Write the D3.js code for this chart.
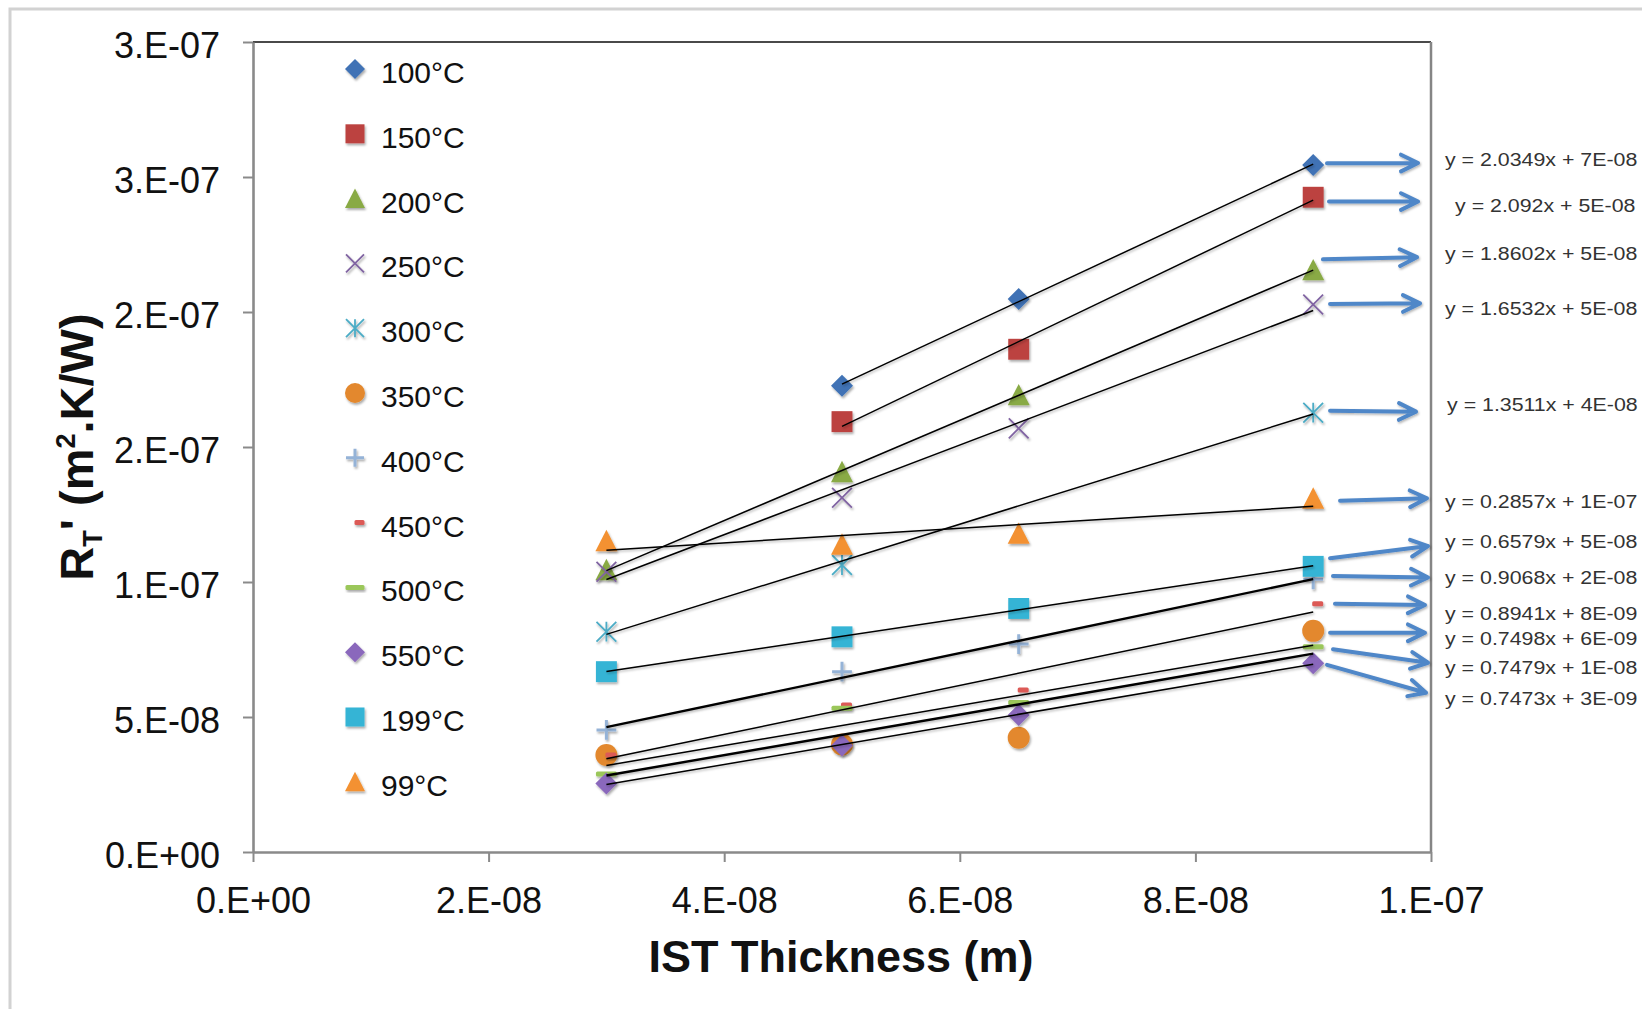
<!DOCTYPE html>
<html><head><meta charset="utf-8">
<script src="https://cdn.jsdelivr.net/npm/d3@7"></script>
<style>
html,body{margin:0;padding:0;background:#fff;overflow:hidden}
svg{display:block}
text{font-family:"Liberation Sans",Arial,Helvetica,sans-serif}
</style></head><body>
<svg id="chart" width="1642" height="1009"></svg>
<script>
// ---------------- DATA ----------------
const xValues = [3e-8, 5e-8, 6.5e-8, 9e-8];           // IST thickness (m)
const seriesNames = ["100°C","150°C","200°C","250°C","300°C","350°C","400°C","450°C","500°C","550°C","199°C","99°C"];
const v100 = [null,     1.727e-7, 2.048e-7, 2.544e-7];
const v150 = [null,     1.594e-7, 1.862e-7, 2.425e-7];
const v200 = [1.045e-7, 1.408e-7, 1.693e-7, 2.156e-7];
const v250 = [1.038e-7, 1.312e-7, 1.569e-7, 2.028e-7];
const v300 = [8.16e-8,  1.063e-7, null,     1.627e-7];
const v350 = [3.59e-8,  3.98e-8,  4.23e-8,  8.19e-8];
const v400 = [4.52e-8,  6.68e-8,  7.70e-8,  1.010e-7];
const v450 = [3.59e-8,  5.44e-8,  6.00e-8,  9.19e-8];
const v500 = [2.89e-8,  5.32e-8,  5.54e-8,  7.60e-8];
const v550 = [2.54e-8,  3.94e-8,  5.07e-8,  6.99e-8];
const v199 = [6.68e-8,  7.97e-8,  9.02e-8,  1.058e-7];
const v99  = [1.153e-7, 1.140e-7, 1.180e-7, 1.310e-7];
const seriesValues = [v100,v150,v200,v250,v300,v350,v400,v450,v500,v550,v199,v99];

const xTicks = [0, 2e-8, 4e-8, 6e-8, 8e-8, 1e-7];
const xTickLabels = ["0.E+00","2.E-08","4.E-08","6.E-08","8.E-08","1.E-07"];
const yTicks = [0, 5e-8, 1e-7, 1.5e-7, 2e-7, 2.5e-7, 3e-7];
const yTickLabels = ["0.E+00","5.E-08","1.E-07","2.E-07","2.E-07","3.E-07","3.E-07"];

// trendline equation labels, top to bottom
const equationTexts = ["y = 2.0349x + 7E-08","y = 2.092x + 5E-08","y = 1.8602x + 5E-08","y = 1.6532x + 5E-08",
  "y = 1.3511x + 4E-08","y = 0.2857x + 1E-07","y = 0.6579x + 5E-08","y = 0.9068x + 2E-08",
  "y = 0.8941x + 8E-09","y = 0.7498x + 6E-09","y = 0.7479x + 1E-08","y = 0.7473x + 3E-09"];

// ---------------- LAYOUT / STYLE ----------------
const markerStyles = [
  {marker:"diamond",  color:"#3f72b5", lw:1.5},
  {marker:"square",   color:"#bc423f", lw:1.5},
  {marker:"triangle", color:"#89aa45", lw:1.5},
  {marker:"x",        color:"#8064a2", lw:1.5},
  {marker:"asterisk", color:"#4bacc6", lw:1.5},
  {marker:"circle",   color:"#e3882d", lw:2.4},
  {marker:"plus",     color:"#95b3d7", lw:2.4},
  {marker:"dashShort",color:"#dc5a56", lw:1.5},
  {marker:"dash",     color:"#9bc75a", lw:1.5},
  {marker:"diamond",  color:"#8a68bc", lw:1.5},
  {marker:"square",   color:"#34b4d5", lw:1.5},
  {marker:"triangle", color:"#f39130", lw:1.5}
];
// annotation anchors in data units: arrow [x1,y1,x2,y2], label [x,yCenter]
const arrowAnchors = [
  [9.117e-8,2.551e-7,9.890e-8,2.552e-7],[9.134e-8,2.409e-7,9.890e-8,2.409e-7],
  [9.083e-8,2.195e-7,9.881e-8,2.203e-7],[9.143e-8,2.030e-7,9.907e-8,2.032e-7],
  [9.143e-8,1.634e-7,9.873e-8,1.631e-7],[9.228e-8,1.301e-7,9.966e-8,1.310e-7],
  [9.143e-8,1.088e-7,9.975e-8,1.133e-7],[9.168e-8,1.022e-7,9.975e-8,1.017e-7],
  [9.185e-8,9.19e-8,9.949e-8,9.15e-8],[9.143e-8,8.12e-8,9.949e-8,8.12e-8],
  [9.168e-8,7.51e-8,9.975e-8,7.01e-8],[9.117e-8,6.93e-8,9.958e-8,5.90e-8]
];
const labelAnchors = [
  [1.0119e-7,2.563e-7],[1.0204e-7,2.393e-7],[1.0119e-7,2.215e-7],[1.0119e-7,2.013e-7],
  [1.0136e-7,1.657e-7],[1.0119e-7,1.297e-7],[1.0119e-7,1.149e-7],[1.0119e-7,1.017e-7],
  [1.0119e-7,8.84e-8],[1.0119e-7,7.91e-8],[1.0119e-7,6.84e-8],[1.0119e-7,5.69e-8]
];

const svg = d3.select("#chart");
const defs = svg.append("defs");
const sh = defs.append("filter").attr("id","shadow").attr("x","-60%").attr("y","-60%").attr("width","220%").attr("height","220%");
sh.append("feDropShadow").attr("dx",1.2).attr("dy",2).attr("stdDeviation",1.3).attr("flood-color","#000").attr("flood-opacity",0.33);
const sh2 = defs.append("filter").attr("id","lshadow").attr("x","-10%").attr("y","-50%").attr("width","120%").attr("height","200%");
sh2.append("feDropShadow").attr("dx",1).attr("dy",1.5).attr("stdDeviation",0.9).attr("flood-color","#000").attr("flood-opacity",0.3);

svg.append("rect").attr("x",0).attr("y",0).attr("width",1642).attr("height",1009).attr("fill","#fff");
// outer chart frame
svg.append("rect").attr("x",10).attr("y",9).attr("width",1700).attr("height",1100)
  .attr("fill","none").attr("stroke","#d2d2d2").attr("stroke-width",3);

const x = d3.scaleLinear().domain([0,1e-7]).range([253,1431]);
const y = d3.scaleLinear().domain([0,3e-7]).range([852,42]);

// plot border
svg.append("line").attr("x1",x(0)).attr("x2",x(1e-7)).attr("y1",y(3e-7)).attr("y2",y(3e-7)).attr("stroke","#4a4a4a").attr("stroke-width",2);
svg.append("line").attr("x1",x(1e-7)).attr("x2",x(1e-7)).attr("y1",y(3e-7)).attr("y2",y(0)).attr("stroke","#858585").attr("stroke-width",2.5);

// axes
const xAxis = d3.axisBottom(x).tickValues(xTicks).tickFormat((d,i)=>xTickLabels[i]).tickSize(10).tickSizeOuter(0).tickPadding(25);
const yAxis = d3.axisLeft(y).tickValues(yTicks).tickFormat((d,i)=>yTickLabels[i]).tickSize(10).tickSizeOuter(0).tickPadding(23);
const gx = svg.append("g").attr("transform",`translate(0,${y(0)})`).call(xAxis);
const gy = svg.append("g").attr("transform",`translate(${x(0)},0)`).call(yAxis);
[gx,gy].forEach(g=>{
  g.select(".domain").attr("stroke","#8a8a8a").attr("stroke-width",2.6);
  g.selectAll(".tick line").attr("stroke","#8a8a8a").attr("stroke-width",2);
  g.selectAll(".tick text").attr("fill","#111").style("font-family","'Liberation Sans',Arial,sans-serif");
});
gx.selectAll(".tick text").attr("font-size",36);
gy.selectAll(".tick text").attr("font-size",36).attr("dy","0.42em");

// axis titles
svg.append("text").attr("x",841).attr("y",972).attr("text-anchor","middle")
  .attr("font-size",45).attr("font-weight","bold").attr("fill","#111").text("IST Thickness (m)");
const yt = svg.append("text").attr("transform","translate(93,447) rotate(-90)").attr("text-anchor","middle")
  .attr("font-size",47).attr("font-weight","bold").attr("fill","#111");
yt.append("tspan").text("R");
yt.append("tspan").attr("font-size",27).attr("dy",9).text("T");
yt.append("tspan").attr("dy",-9).text("' (m");
yt.append("tspan").attr("font-size",27).attr("dy",-18).text("2");
yt.append("tspan").attr("dy",18).text(".K/W)");

// marker drawer
function drawMarker(parent, st, cx, cy, s){
  const h = s/2;
  const g = parent.append("g").attr("transform",`translate(${cx},${cy})`).attr("filter","url(#shadow)");
  const c = st.color;
  switch(st.marker){
    case "diamond": g.append("path").attr("d",`M0,${-h}L${h},0L0,${h}L${-h},0Z`).attr("fill",c); break;
    case "square": g.append("rect").attr("x",-h*0.95).attr("y",-h*0.95).attr("width",s*0.95).attr("height",s*0.95).attr("fill",c); break;
    case "triangle": g.append("path").attr("d",`M0,${-h}L${h},${h*0.95}L${-h},${h*0.95}Z`).attr("fill",c); break;
    case "circle": g.append("circle").attr("r",h).attr("fill",c); break;
    case "x": case "asterisk": {
      const a = h*0.9;
      g.append("path").attr("d",`M${-a},${-a}L${a},${a}M${a},${-a}L${-a},${a}`+(st.marker==="asterisk"?`M0,${-a}L0,${a}`:""))
        .attr("stroke",c).attr("stroke-width",1.8).attr("fill","none"); break; }
    case "plus": { const a=h*0.9;
      g.append("path").attr("d",`M${-a},0L${a},0M0,${-a}L0,${a}`).attr("stroke",c).attr("stroke-width",3).attr("fill","none"); break; }
    case "dash": g.append("rect").attr("x",-h*0.95).attr("y",-2.5).attr("width",s*0.95).attr("height",5).attr("rx",1.5).attr("fill",c); break;
    case "dashShort": g.append("rect").attr("x",-h*0.5+4.5).attr("y",-2.5).attr("width",s*0.5).attr("height",5).attr("rx",1.5).attr("fill",c); break;
  }
}

// markers
const gm = svg.append("g");
seriesValues.forEach((vals,si)=>{
  vals.forEach((v,i)=>{ if(v!=null) drawMarker(gm, markerStyles[si], x(xValues[i]), y(v), 22); });
});

// linear trendlines (least squares over each series)
function fit(vals){
  const pts = xValues.map((xv,i)=>[xv,vals[i]]).filter(p=>p[1]!=null);
  const mx = d3.mean(pts,p=>p[0]), my = d3.mean(pts,p=>p[1]);
  let sxy=0,sxx=0; pts.forEach(p=>{sxy+=(p[0]-mx)*(p[1]-my); sxx+=(p[0]-mx)**2;});
  const m = sxy/sxx, b = my-m*mx;
  const x0 = d3.min(pts,p=>p[0]), x1 = d3.max(pts,p=>p[0]);
  return [[x0,m*x0+b],[x1,m*x1+b]];
}
const line = d3.line().x(d=>x(d[0])).y(d=>y(d[1]));
const gl = svg.append("g").attr("filter","url(#lshadow)");
seriesValues.forEach((vals,si)=>{
  gl.append("path").attr("d",line(fit(vals))).attr("fill","none").attr("stroke","#000").attr("stroke-width",markerStyles[si].lw);
});

// arrows
const ga = svg.append("g").attr("filter","url(#lshadow)");
arrowAnchors.forEach(a=>{
  const x1=x(a[0]), y1=y(a[1]), x2=x(a[2]), y2=y(a[3]);
  const ang = Math.atan2(y2-y1,x2-x1), L=19, th=26*Math.PI/180;
  const p1=[x2+L*Math.cos(ang+Math.PI-th), y2+L*Math.sin(ang+Math.PI-th)];
  const p2=[x2+L*Math.cos(ang+Math.PI+th), y2+L*Math.sin(ang+Math.PI+th)];
  ga.append("path").attr("d",`M${x1},${y1}L${x2},${y2}M${p1[0]},${p1[1]}L${x2},${y2}L${p2[0]},${p2[1]}`)
    .attr("fill","none").attr("stroke","#5087c8").attr("stroke-width",4).attr("stroke-linecap","round").attr("stroke-linejoin","round");
});

// equation labels
equationTexts.forEach((t,i)=>{
  const a = labelAnchors[i];
  svg.append("text").attr("transform",`translate(${x(a[0])},${y(a[1])+6.5}) scale(1.155,1)`)
    .attr("font-size",18.5).attr("fill","#333").text(t);
});

// legend
const gleg = svg.append("g");
seriesNames.forEach((n,i)=>{
  const ly = 69 + 64.8*i;
  drawMarker(gleg, markerStyles[i], 355, ly, 20);
  gleg.append("text").attr("x",381).attr("y",ly+14).attr("font-size",30).attr("fill","#111").text(n);
});
</script>
</body></html>
